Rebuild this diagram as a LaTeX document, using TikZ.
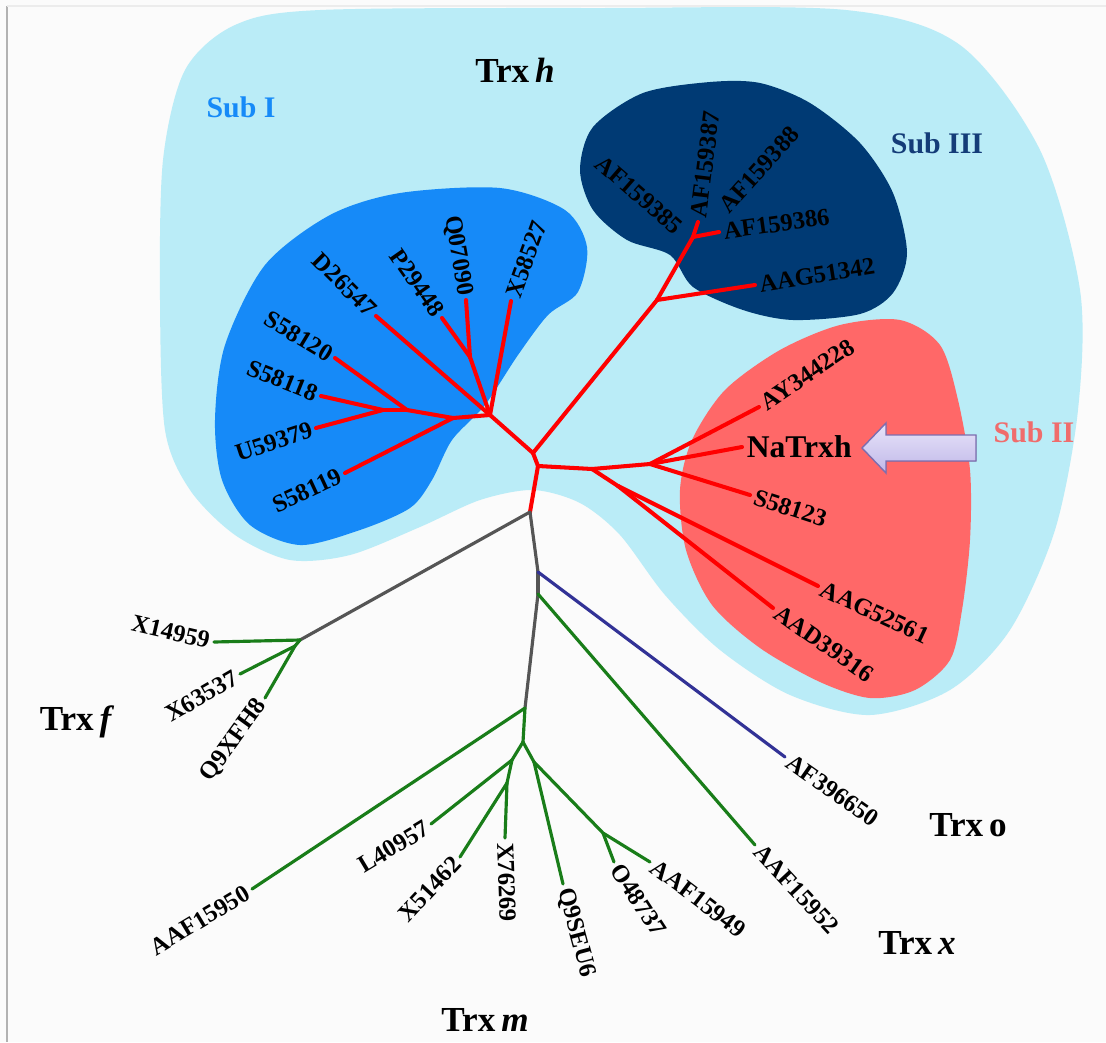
\documentclass[tikz,border=0pt]{standalone}
\usepackage{fontspec}
\setmainfont{Liberation Serif}

\definecolor{trxh}{RGB}{186,236,247}
\definecolor{subone}{RGB}{22,138,248}
\definecolor{subtwo}{RGB}{255,104,104}
\definecolor{subthree}{RGB}{0,58,116}
\definecolor{subtwotext}{RGB}{240,108,108}
\definecolor{subthreetext}{RGB}{20,60,120}
\definecolor{hred}{RGB}{255,0,0}
\definecolor{trunk}{RGB}{85,85,85}
\definecolor{leafgreen}{RGB}{25,125,25}
\definecolor{oblue}{RGB}{50,50,150}
\definecolor{arrowtop}{RGB}{232,228,250}
\definecolor{arrowbottom}{RGB}{192,184,232}
\definecolor{arrowline}{RGB}{125,110,176}

\tikzset{
  leaf/.style={font=\fontsize{14}{15}\selectfont\bfseries, inner sep=2.5pt},
  target/.style={leaf, font=\fontsize{18}{20}\selectfont\bfseries},
  group/.style={font=\fontsize{20}{22}\selectfont\bfseries},
  sublabel/.style={font=\fontsize{17}{19}\selectfont\bfseries},
  hbranch/.style={draw=hred, line width=2.3pt, line cap=round},
  trunkline/.style={draw=trunk, line width=1.8pt, line cap=round},
  gbranch/.style={draw=leafgreen, line width=1.8pt, line cap=round},
  obranch/.style={draw=oblue, line width=1.8pt, line cap=round}
}

\begin{document}
\begin{tikzpicture}[x=0.02cm, y=-0.02cm]
  \useasboundingbox (0,0) rectangle (1106,1042);
  \fill[white!97!gray] (0,0) rectangle (1106,1042);
  \draw[gray!60, line width=0.8pt] (7,6) -- (7,1042);
  \draw[gray!15, line width=0.6pt] (7,6) -- (1106,6);

  % clade areas
  \fill[trxh] plot[smooth cycle, tension=0.5] coordinates {
    (320,10) (600,8) (846,10) (960,45) (1040,150) (1080,290) (1078,410)
    (1055,530) (1010,630) (950,690) (870,715) (790,695) (720,650) (665,595)
    (620,535) (580,503) (533,490) (480,500) (420,527) (350,555) (290,560)
    (235,535) (190,490) (165,430) (160,300) (163,160) (185,70) (235,25)};
  \fill[subone] plot[smooth cycle] coordinates {
    (330,215) (400,193) (500,188) (565,210) (587,247) (578,292) (548,315)
    (518,355) (485,405) (452,440) (432,480) (410,508) (360,530) (300,545)
    (250,525) (222,480) (215,420) (225,345) (265,265)};
  \fill[subthree] plot[smooth cycle] coordinates {
    (643,93) (593,127) (580,170) (593,210) (627,240) (670,255) (693,287)
    (743,310) (793,320) (860,314) (893,293) (907,253) (893,193) (860,143)
    (810,103) (760,83) (710,82)};
  \fill[subtwo] plot[smooth cycle] coordinates {
    (900,320) (940,345) (958,400) (970,470) (970,540) (962,610) (950,660)
    (915,690) (870,698) (820,682) (760,648) (712,605) (686,550) (680,490)
    (692,440) (725,390) (780,350) (840,325)};

  % inner nodes of the tree
  \coordinate (A) at (533,453);
  \coordinate (B) at (538,466);
  \coordinate (g0) at (530,512);
  \coordinate (s1) at (490,415);
  \coordinate (qp) at (470,357);
  \coordinate (s2) at (453,418);
  \coordinate (s3) at (407,410);
  \coordinate (s4) at (383,410);
  \coordinate (t1) at (657,300);
  \coordinate (t2) at (693,237);
  \coordinate (c1) at (592,469);
  \coordinate (c2) at (650,464);
  \coordinate (c3) at (618,486);
  \coordinate (g1) at (538,572);
  \coordinate (g2) at (538,594);
  \coordinate (g3) at (525,708);
  \coordinate (f1) at (300,640);
  \coordinate (f2) at (295,646);
  \coordinate (m2) at (523,742);
  \coordinate (m3) at (534,762);
  \coordinate (m4) at (512,760);
  \coordinate (m5) at (507,783);
  \coordinate (x1) at (603,833);

  % Sub I
  \node[leaf, anchor=west, rotate=70] (X58527) at (511,301) {X58527};
  \node[leaf, anchor=east, rotate=-80] (Q07090) at (466,300) {Q07090};
  \node[leaf, anchor=east, rotate=-55] (P29448) at (442,318) {P29448};
  \node[leaf, anchor=east, rotate=-45] (D26547) at (376,316) {D26547};
  \node[leaf, anchor=east, rotate=-31] (S58120) at (335,358) {S58120};
  \node[leaf, anchor=east, rotate=-22] (S58118) at (321,396) {S58118};
  \node[leaf, anchor=east, rotate=18] (U59379) at (316,428) {U59379};
  \node[leaf, anchor=east, rotate=25] (S58119) at (345,473) {S58119};
  % Sub III
  \node[leaf, anchor=east, rotate=-41] (AF159385) at (683,233) {AF159385};
  \node[leaf, anchor=west, rotate=83] (AF159387) at (698,222) {AF159387};
  \node[leaf, anchor=west, rotate=48] (AF159388) at (720,213) {AF159388};
  \node[leaf, anchor=west, rotate=8] (AF159386) at (719,232) {AF159386};
  \node[leaf, anchor=west, rotate=9] (AAG51342) at (755,285) {AAG51342};
  % Sub II
  \node[leaf, anchor=west, rotate=34] (AY344228) at (759,407) {AY344228};
  \node[target, anchor=west] (NaTrxh) at (742,447) {NaTrxh};
  \node[leaf, anchor=west, rotate=-18] (S58123) at (750,495) {S58123};
  \node[leaf, anchor=west, rotate=-25] (AAG52561) at (818,586) {AAG52561};
  \node[leaf, anchor=west, rotate=-35] (AAD39316) at (773,608) {AAD39316};
  % Trx o, x, m, f
  \node[leaf, anchor=west, rotate=-35] (AF396650) at (785,757) {AF396650};
  \node[leaf, anchor=west, rotate=-47] (AAF15952) at (755,845) {AAF15952};
  \node[leaf, anchor=west, rotate=-37] (AAF15949) at (650,862) {AAF15949};
  \node[leaf, anchor=west, rotate=-57] (O48737) at (614,862) {O48737};
  \node[leaf, anchor=west, rotate=-75] (Q9SEU6) at (563,884) {Q9SEU6};
  \node[leaf, anchor=west, rotate=-88] (X76269) at (505,838) {X76269};
  \node[leaf, anchor=east, rotate=47] (X51462) at (460,857) {X51462};
  \node[leaf, anchor=east, rotate=31] (L40957) at (431,824) {L40957};
  \node[leaf, anchor=east, rotate=31] (AAF15950) at (252,889) {AAF15950};
  \node[leaf, anchor=east, rotate=-13] (X14959) at (214,642) {X14959};
  \node[leaf, anchor=east, rotate=30] (X63537) at (240,674) {X63537};
  \node[leaf, anchor=east, rotate=54] (Q9XFH8) at (265,698) {Q9XFH8};

  % group names
  \node[group] (trxh) at (515,70) {Trx\,\textit{h}};
  \node[group] (trxf) at (77,722) {Trx\,\textit{f}};
  \node[group] (trxm) at (485,1020) {Trx\,\textit{m}};
  \node[group] (trxo) at (968,825) {Trx\,o};
  \node[group] (trxx) at (917,943) {Trx\,\textit{x}};
  \node[sublabel, text=subone] (subI) at (241,107) {Sub I};
  \node[sublabel, text=subtwotext] (subII) at (1034,432) {Sub II};
  \node[sublabel, text=subthreetext] (subIII) at (937,143) {Sub III};

  \path[hbranch]
    (A) edge (s1)
    (A) edge (t1)
    (A) edge (B)
    (B) edge (g0)
    (s1) edge (X58527.west)
    (s1) edge (qp)
    (qp) edge (Q07090.east)
    (qp) edge (P29448.east)
    (s1) edge (D26547.east)
    (s1) edge (s2)
    (s2) edge (S58119.east)
    (s2) edge (s3)
    (s3) edge (S58120.east)
    (s3) edge (s4)
    (s4) edge (S58118.east)
    (s4) edge (U59379.east)
    (t1) edge (t2)
    (t1) edge (AAG51342.west)
    (t2) edge (AF159387.west)
    (t2) edge (AF159386.west)
    (B) edge (c1)
    (c1) edge (c2)
    (c1) edge (c3)
    (c2) edge (AY344228.west)
    (c2) edge (NaTrxh.west)
    (c2) edge (S58123.west)
    (c3) edge (AAG52561.west)
    (c3) edge (AAD39316.west);

  \path[trunkline]
    (g0) edge (f1)
    (g0) edge (g1)
    (g1) edge (g2)
    (g2) edge (g3);

  \path[obranch] (g1) edge (AF396650.west);

  \path[gbranch]
    (g2) edge (AAF15952.west)
    (f1) edge (X14959.east)
    (f1) edge (f2)
    (f2) edge (X63537.east)
    (f2) edge (Q9XFH8.east)
    (g3) edge (AAF15950.east)
    (g3) edge (m2)
    (m2) edge (m4)
    (m4) edge (L40957.east)
    (m4) edge (m5)
    (m5) edge (X51462.east)
    (m5) edge (X76269.west)
    (m2) edge (m3)
    (m3) edge (Q9SEU6.west)
    (m3) edge (x1)
    (x1) edge (O48737.west)
    (x1) edge (AAF15949.west);

  % pointer to NaTrxh
  \filldraw[draw=arrowline, line width=0.8pt, top color=arrowtop, bottom color=arrowbottom]
    (862,448) -- (886,423) -- (886,435) -- (976,435) -- (976,461)
    -- (886,461) -- (886,473) -- cycle;
\end{tikzpicture}
\end{document}
